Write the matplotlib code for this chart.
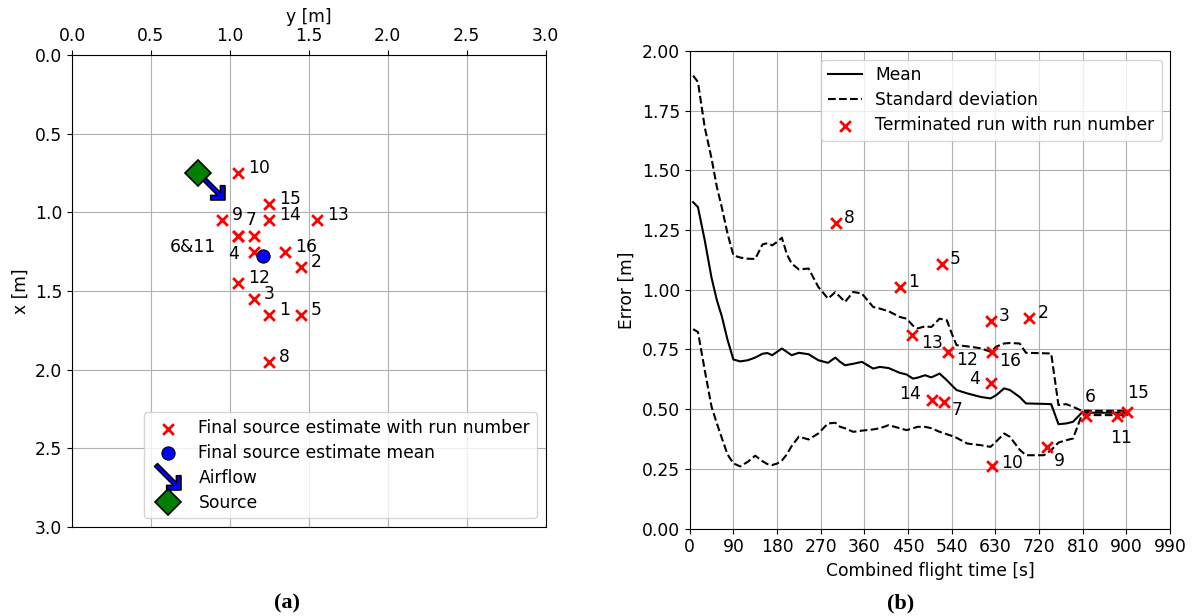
import matplotlib
matplotlib.use("Agg")
import matplotlib.pyplot as plt
import numpy as np
from matplotlib.path import Path
from matplotlib.transforms import Affine2D

plt.rcParams['font.family'] = ['DejaVu Sans']
plt.rcParams['font.size'] = 12.3
plt.rcParams['legend.labelspacing'] = 0.4

# (a) final source estimates per run
run_ids = [1, 2, 3, 4, 5, 6, 7, 8, 9, 10, 11, 12, 13, 14, 15, 16]
est_y = [1.25, 1.45, 1.15, 1.15, 1.45, 1.05, 1.15, 1.25, 0.95, 1.05, 1.05, 1.05, 1.55, 1.25, 1.25, 1.35]
est_x = [1.65, 1.35, 1.55, 1.25, 1.65, 1.15, 1.15, 1.95, 1.05, 0.75, 1.15, 1.45, 1.05, 1.05, 0.95, 1.25]
source_y, source_x = 0.8, 0.75
airflow_y, airflow_x = 0.8875, 0.8375

# (b) error over combined flight time
flight_time = [7, 17, 31, 45, 56, 66, 78, 90, 104, 120, 135, 150, 160, 170, 180, 190, 200, 210, 225, 245,
               265, 285, 300, 310, 320, 337, 355, 378, 392, 410, 433, 447, 460, 470, 485, 498, 515, 530, 540, 550,
               572, 600, 620, 632, 648, 660, 680, 693, 730, 745, 760, 776, 790, 808, 903]
err_mean = [1.367, 1.346, 1.207, 1.05, 0.956, 0.89, 0.79, 0.708, 0.70, 0.705, 0.716, 0.732, 0.735, 0.726, 0.74,
            0.754, 0.74, 0.726, 0.736, 0.73, 0.705, 0.694, 0.716, 0.698, 0.684, 0.69, 0.698, 0.67, 0.677, 0.672,
            0.652, 0.645, 0.628, 0.632, 0.642, 0.633, 0.649, 0.621, 0.60, 0.58, 0.566, 0.551, 0.545, 0.559, 0.587,
            0.58, 0.551, 0.524, 0.522, 0.521, 0.437, 0.44, 0.447, 0.485, 0.485]
err_upper = [1.897, 1.87, 1.68, 1.55, 1.43, 1.346, 1.235, 1.144, 1.135, 1.13, 1.129, 1.19, 1.195, 1.186, 1.20,
             1.218, 1.15, 1.11, 1.085, 1.089, 1.012, 0.963, 0.99, 0.97, 0.949, 0.991, 0.984, 0.928, 0.921, 0.91,
             0.886, 0.879, 0.85, 0.838, 0.847, 0.844, 0.879, 0.872, 0.817, 0.768, 0.763, 0.755, 0.74, 0.762, 0.775,
             0.777, 0.775, 0.736, 0.734, 0.733, 0.517, 0.521, 0.51, 0.493, 0.493]
err_lower = [0.835, 0.823, 0.663, 0.51, 0.44, 0.38, 0.31, 0.273, 0.26, 0.28, 0.305, 0.282, 0.27, 0.266, 0.272,
             0.285, 0.31, 0.345, 0.385, 0.373, 0.398, 0.44, 0.443, 0.426, 0.42, 0.405, 0.41, 0.415, 0.42, 0.433,
             0.42, 0.412, 0.42, 0.426, 0.426, 0.42, 0.405, 0.395, 0.388, 0.38, 0.356, 0.349, 0.342, 0.365, 0.398,
             0.384, 0.33, 0.307, 0.307, 0.328, 0.36, 0.37, 0.377, 0.475, 0.475]

term_run = [1, 2, 3, 4, 5, 6, 7, 8, 9, 10, 11, 12, 13, 14, 15, 16]
term_time = [433, 700, 621, 620, 519, 817, 524, 301, 737, 623, 881, 533, 459, 500, 902, 622]
term_err = [1.01, 0.88, 0.87, 0.61, 1.11, 0.47, 0.53, 1.28, 0.34, 0.26, 0.47, 0.74, 0.81, 0.54, 0.49, 0.74]

# label placement (pixel offsets, ha)
left_offsets = {'6&11': (-22, -11, 'right'), '4': (-15, -2, 'right'), '7': (-3, 16, 'center')}
right_offsets = {'13': (9, -8, 'left'), '12': (8, -8, 'left'), '16': (8, -9, 'left'), '7': (8, -8, 'left'),
                 '4': (-11, 4, 'right'), '14': (-11, 6, 'right'), '10': (9, 3, 'left'),
                 '9': (12, -14, 'center'), '6': (4, 19, 'center'), '11': (4, -22, 'center'),
                 '15': (11, 19, 'center')}

# arrow marker (pointing right, then turned to point down-right)
arrow_verts = np.array([(-17.5, 2), (9.1, 2), (4.3, 6.8), (7.5, 10), (17.5, 0), (7.5, -10),
                        (4.3, -6.8), (9.1, -2), (-17.5, -2), (-17.5, 2)])
arrow_verts = Affine2D().rotate_deg(-45).transform(arrow_verts)
arrow_path = Path(arrow_verts, [Path.MOVETO] + [Path.LINETO] * 8 + [Path.CLOSEPOLY])

fig = plt.figure(figsize=(11.97, 6.16), dpi=100)
ax1 = fig.add_axes([0.0602, 0.1445, 0.3956, 0.7662])
ax2 = fig.add_axes([0.5762, 0.1420, 0.4013, 0.7752])

# ---- (a)
ax1.scatter(est_y, est_x, marker='x', color='red', s=60, linewidths=2,
            label='Final source estimate with run number', zorder=3)
ax1.scatter([np.mean(est_y)], [np.mean(est_x)], marker='o', color='blue', edgecolors='black',
            linewidths=0.8, s=90, label='Final source estimate mean', zorder=3)
ax1.plot([airflow_y], [airflow_x], ls='none', marker=arrow_path, markersize=20, markerfacecolor='blue',
         markeredgecolor='black', markeredgewidth=1.2, label='Airflow', zorder=4)
ax1.plot([source_y], [source_x], ls='none', marker='D', markersize=13, markerfacecolor='green',
         markeredgecolor='black', markeredgewidth=1.2, label='Source', zorder=5)

groups = {}
for r, yy, xx in zip(run_ids, est_y, est_x):
    groups.setdefault((yy, xx), []).append(str(r))
for (yy, xx), rs in groups.items():
    lab = '&'.join(rs)
    dx, dy, ha = left_offsets.get(lab, (10, 5, 'left'))
    ax1.annotate(lab, (yy, xx), xytext=(dx, dy), textcoords='offset pixels', ha=ha, va='center')

ax1.set_xlim(0, 3)
ax1.set_ylim(3, 0)
ax1.set_xticks(np.arange(0, 3.01, 0.5))
ax1.set_yticks(np.arange(0, 3.01, 0.5))
ax1.xaxis.tick_top()
ax1.xaxis.set_label_position('top')
ax1.set_xlabel('y [m]')
ax1.set_ylabel('x [m]')
ax1.grid(True)
ax1.set_axisbelow(True)
ax1.legend(loc='lower right')

# ---- (b)
ax2.plot(flight_time, err_mean, color='black', lw=1.5, label='Mean')
ax2.plot(flight_time, err_upper, color='black', lw=1.5, ls='--', label='Standard deviation')
ax2.plot(flight_time, err_lower, color='black', lw=1.5, ls='--')
ax2.scatter(term_time, term_err, marker='x', color='red', s=60, linewidths=2,
            label='Terminated run with run number', zorder=3)
for r, tt, ee in zip(term_run, term_time, term_err):
    dx, dy, ha = right_offsets.get(str(r), (8, 5, 'left'))
    ax2.annotate(str(r), (tt, ee), xytext=(dx, dy), textcoords='offset pixels', ha=ha, va='center')

ax2.set_xlim(0, 990)
ax2.set_ylim(0, 2)
ax2.set_xticks(np.arange(0, 991, 90))
ax2.set_yticks(np.arange(0, 2.01, 0.25))
ax2.yaxis.set_major_formatter(matplotlib.ticker.FormatStrFormatter('%.2f'))
ax2.set_xlabel('Combined flight time [s]')
ax2.set_ylabel('Error [m]')
ax2.grid(True)
ax2.set_axisbelow(True)
ax2.legend(loc='upper right')

fig.text(287 / 1197, 1 - 603 / 616, '(a)', ha='center', va='center', fontsize=16,
         fontweight='bold', family='Liberation Serif')
fig.text(901 / 1197, 1 - 603 / 616, '(b)', ha='center', va='center', fontsize=16,
         fontweight='bold', family='Liberation Serif')

fig.savefig('out.png', dpi=100)
